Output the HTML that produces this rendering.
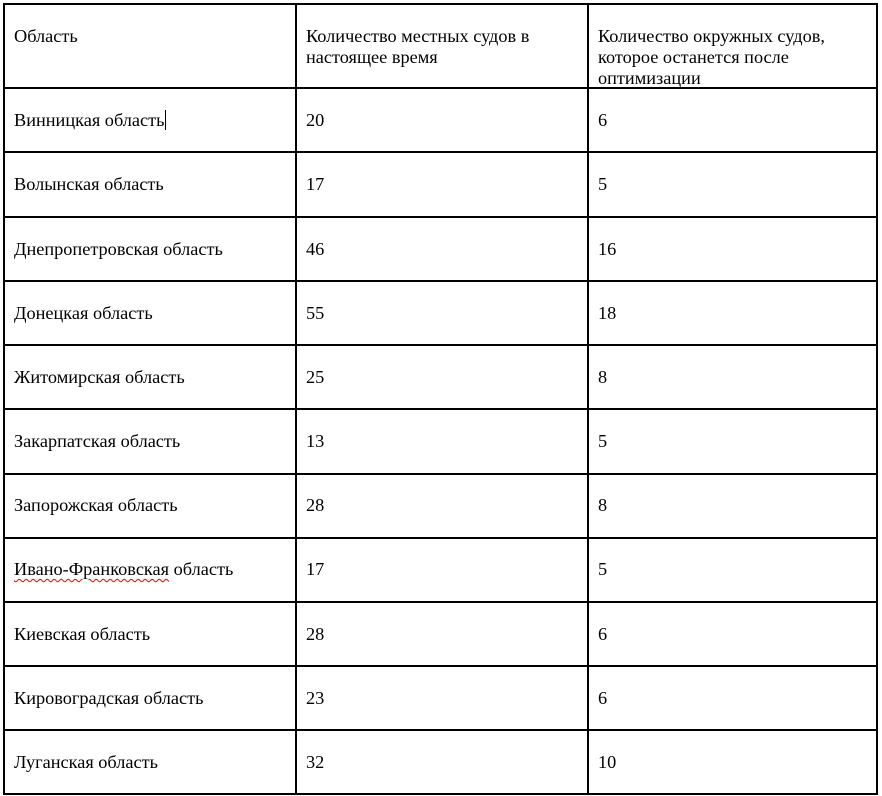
<!DOCTYPE html>
<html><head><meta charset="utf-8"><style>
body{margin:0;width:882px;height:796px;background:#fff;position:relative;overflow:hidden;font-family:"Liberation Serif",serif;font-size:18.3px;color:#000}
.h{position:absolute;height:2px;background:#000;left:3px;width:875px}
.v{position:absolute;width:2px;background:#000;top:3px;height:792px}
.t{position:absolute;line-height:21px;white-space:nowrap}
.w{text-decoration:underline wavy #e00;text-decoration-thickness:1px;text-underline-offset:3px}
</style></head><body>
<div class="h" style="top:3px"></div>
<div class="h" style="top:87px"></div>
<div class="h" style="top:151px"></div>
<div class="h" style="top:216px"></div>
<div class="h" style="top:280px"></div>
<div class="h" style="top:344px"></div>
<div class="h" style="top:408px"></div>
<div class="h" style="top:473px"></div>
<div class="h" style="top:537px"></div>
<div class="h" style="top:601px"></div>
<div class="h" style="top:665px"></div>
<div class="h" style="top:729px"></div>
<div class="h" style="top:793px"></div>
<div class="v" style="left:3px"></div>
<div class="v" style="left:295px"></div>
<div class="v" style="left:587px"></div>
<div class="v" style="left:876px"></div>

<div class="t" style="left:14px;top:26px">Область</div>
<div class="t" style="left:306px;top:26px">Количество местных судов в<br>настоящее время</div>
<div class="t" style="left:598px;top:26px">Количество окружных судов,<br>которое останется после<br>оптимизации</div>

<div class="t" style="left:14px;top:110px">Винницкая область<span style="border-left:1px solid #000;margin-left:1px"></span></div><div class="t" style="left:306px;top:110px">20</div><div class="t" style="left:598px;top:110px">6</div>
<div class="t" style="left:14px;top:174px">Волынская область</div><div class="t" style="left:306px;top:174px">17</div><div class="t" style="left:598px;top:174px">5</div>
<div class="t" style="left:14px;top:239px">Днепропетровская область</div><div class="t" style="left:306px;top:239px">46</div><div class="t" style="left:598px;top:239px">16</div>
<div class="t" style="left:14px;top:303px">Донецкая область</div><div class="t" style="left:306px;top:303px">55</div><div class="t" style="left:598px;top:303px">18</div>
<div class="t" style="left:14px;top:367px">Житомирская область</div><div class="t" style="left:306px;top:367px">25</div><div class="t" style="left:598px;top:367px">8</div>
<div class="t" style="left:14px;top:431px">Закарпатская область</div><div class="t" style="left:306px;top:431px">13</div><div class="t" style="left:598px;top:431px">5</div>
<div class="t" style="left:14px;top:495px">Запорожская область</div><div class="t" style="left:306px;top:495px">28</div><div class="t" style="left:598px;top:495px">8</div>
<div class="t" style="left:14px;top:559px"><span class="w">Ивано-Франковская</span> область</div><div class="t" style="left:306px;top:559px">17</div><div class="t" style="left:598px;top:559px">5</div>
<div class="t" style="left:14px;top:624px">Киевская область</div><div class="t" style="left:306px;top:624px">28</div><div class="t" style="left:598px;top:624px">6</div>
<div class="t" style="left:14px;top:688px">Кировоградская область</div><div class="t" style="left:306px;top:688px">23</div><div class="t" style="left:598px;top:688px">6</div>
<div class="t" style="left:14px;top:752px">Луганская область</div><div class="t" style="left:306px;top:752px">32</div><div class="t" style="left:598px;top:752px">10</div>
</body></html>
